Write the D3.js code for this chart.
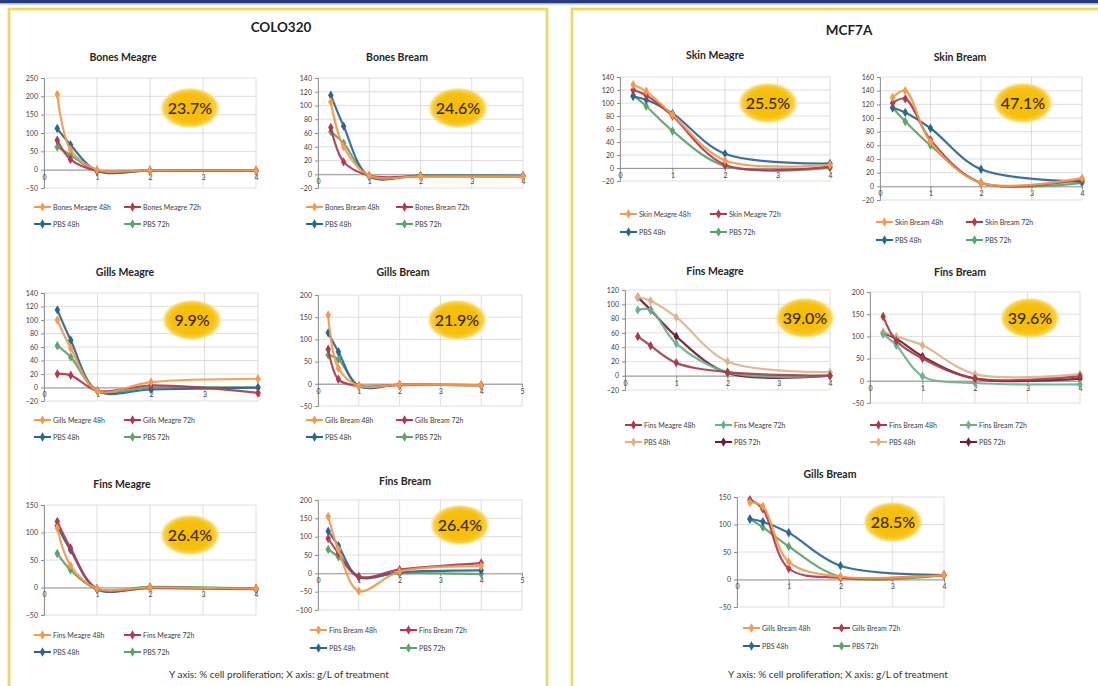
<!DOCTYPE html>
<html>
<head>
<meta charset="utf-8">
<script src="https://cdn.jsdelivr.net/npm/d3@7"></script>
<style>
  body { margin: 0; background: #fff; }
  svg { display: block; }
  text { font-family: Lato, "Open Sans", "Liberation Sans", sans-serif; }
</style>
</head>
<body>
<svg id="fig" width="1098" height="686"></svg>
<script>
// ---------- data ----------
// treatment concentrations (g/L) shared by every curve
const doses = [0.25, 0.5, 1, 2, 4];

// COLO320 panel
const coloTitles = ["Bones Meagre", "Bones Bream", "Gills Meagre", "Gills Bream", "Fins Meagre", "Fins Bream"];
const coloInhibition = ["23.7%", "24.6%", "9.9%", "21.9%", "26.4%", "26.4%"];
const coloYDomains = [[-50, 250], [-20, 140], [-20, 140], [-50, 200], [-50, 150], [-100, 200]];
const coloYSteps = [50, 20, 20, 50, 50, 50];
const coloXMax = [4, 4, 4, 5, 4, 5];

// rows: extract 48h, extract 72h, PBS 48h, PBS 72h (% cell proliferation)
const coloBonesMeagre = [[205, 55, 0, -2, -2], [80, 28, -3, -2, -2], [112, 68, -3, -3, -3], [62, 40, -3, -3, -3]];
const coloBonesBream  = [[105, 40, -2, -3, -3], [68, 18, -2, -3, -3], [115, 70, -3, -2, -2], [62, 45, -3, -2, -3]];
const coloGillsMeagre = [[100, 58, -5, 8, 13], [20, 18, -5, 3, -8], [115, 70, -5, -3, 0], [62, 45, -5, 0, 0]];
const coloGillsBream  = [[155, 35, -5, -2, -3], [78, 10, -5, -3, -3], [115, 72, -5, -2, -3], [65, 55, -5, -2, -3]];
const coloFinsMeagre  = [[108, 40, -2, 0, -2], [120, 72, -2, 0, -2], [112, 68, -3, -1, -3], [62, 32, -3, 1, -2]];
const coloFinsBream   = [[155, 65, -48, 5, 20], [95, 55, -10, 10, 28], [115, 75, -10, 3, 8], [65, 45, -8, 0, -2]];

// MCF7A panel
const mcfTitles = ["Skin Meagre", "Skin Bream", "Fins Meagre", "Fins Bream", "Gills Bream"];
const mcfInhibition = ["25.5%", "47.1%", "39.0%", "39.6%", "28.5%"];
const mcfYDomains = [[-20, 140], [-20, 160], [-20, 120], [-50, 200], [-50, 150]];
const mcfYSteps = [20, 20, 20, 50, 50];
const mcfXMax = [4, 4, 4, 4, 4];

const mcfSkinMeagre  = [[128, 118, 82, 12, 5], [120, 112, 80, 5, 2], [110, 105, 84, 22, 7], [112, 95, 57, 3, 0]];
const mcfSkinBream   = [[130, 140, 65, 5, 12], [122, 128, 68, 5, 10], [115, 108, 85, 25, 7], [115, 95, 60, 5, 5]];
const mcfFinsMeagre  = [[55, 42, 18, 5, 0], [92, 92, 45, 5, 0], [110, 105, 82, 20, 5], [110, 92, 55, 4, 0]];
const mcfFinsBream   = [[145, 90, 50, 5, 10], [105, 80, 10, -5, -8], [110, 100, 80, 15, 15], [108, 95, 55, 5, 5]];
const mcfGillsBream  = [[140, 133, 32, 5, 8], [145, 128, 20, 3, 8], [110, 105, 85, 25, 8], [110, 95, 60, 5, 8]];

const legendSuffixes = ["48h", "72h"];
const controlNames = ["PBS 48h", "PBS 72h"];
const footNote = "Y axis: % cell proliferation; X axis: g/L of treatment";

// ---------- styling / placement ----------
const paletteStd = ["#F29A4E", "#B23A4E", "#2B6592", "#5EA36A"];
const paletteFins = ["#A63D4D", "#6FB08C", "#DDB48A", "#6A2033"];

const frames = [
  { box: [44, 78, 256, 188],   title: [123, 57],  oval: [190, 108],  legY: [207, 224], legX: -10 },
  { box: [318, 78, 523, 188],  title: [397, 57],  oval: [458, 108],  legY: [207, 224], legX: -12 },
  { box: [44, 293, 258, 401],  title: [125, 272], oval: [192, 320],  legY: [420, 437], legX: -10 },
  { box: [318, 295, 522, 406], title: [403, 272], oval: [457, 320],  legY: [420, 437], legX: -12 },
  { box: [44, 505, 256, 615],  title: [122, 484], oval: [190, 535],  legY: [635, 652], legX: -10 },
  { box: [318, 500, 522, 610], title: [405, 481], oval: [460, 525],  legY: [630, 648], legX: -8 },
  { box: [620, 77, 830, 181],  title: [715, 55],  oval: [768, 103],  legY: [214, 232], legX: 0 },
  { box: [880, 77, 1082, 200], title: [960, 57],  oval: [1023, 103], legY: [222, 240], legX: -4 },
  { box: [625, 290, 830, 390], title: [715, 271], oval: [805, 318],  legY: [425, 442], legX: 0 },
  { box: [870, 292, 1080, 403],title: [960, 272], oval: [1030, 318], legY: [425, 442], legX: 0 },
  { box: [737, 497, 944, 607], title: [830, 474], oval: [893, 522],  legY: [628, 646], legX: 6 }
];

const coloSeries = [coloBonesMeagre, coloBonesBream, coloGillsMeagre, coloGillsBream, coloFinsMeagre, coloFinsBream];
const mcfSeries = [mcfSkinMeagre, mcfSkinBream, mcfFinsMeagre, mcfFinsBream, mcfGillsBream];

const charts = [];
coloTitles.forEach((t, i) => charts.push({
  title: t, label: coloInhibition[i], yDomain: coloYDomains[i], yStep: coloYSteps[i],
  xMax: coloXMax[i], rows: coloSeries[i], colors: paletteStd
}));
mcfTitles.forEach((t, i) => charts.push({
  title: t, label: mcfInhibition[i], yDomain: mcfYDomains[i], yStep: mcfYSteps[i],
  xMax: mcfXMax[i], rows: mcfSeries[i], colors: (t.startsWith("Fins") ? paletteFins : paletteStd)
}));

// ---------- drawing ----------
const svg = d3.select("#fig");
const defs = svg.append("defs");

const grad = defs.append("radialGradient").attr("id", "ovalFill");
grad.append("stop").attr("offset", "0%").attr("stop-color", "#F5BC00");
grad.append("stop").attr("offset", "70%").attr("stop-color", "#F6C010");
grad.append("stop").attr("offset", "88%").attr("stop-color", "#F8D350");
grad.append("stop").attr("offset", "100%").attr("stop-color", "#FCEBA8").attr("stop-opacity", 0.25);

// header strip
svg.append("rect").attr("x", 0).attr("y", 0).attr("width", 1098).attr("height", 3).attr("fill", "#2B3A7C");
svg.append("rect").attr("x", 0).attr("y", 3).attr("width", 1098).attr("height", 1.5).attr("fill", "#A9B3D8");

// yellow panel frames
[[9, 9, 538, 690], [572, 9, 540, 690]].forEach(([x, y, w, h]) => {
  svg.append("rect").attr("x", x).attr("y", y).attr("width", w).attr("height", h)
    .attr("fill", "none").attr("stroke", "#FAF0B8").attr("stroke-width", 4);
  svg.append("rect").attr("x", x).attr("y", y).attr("width", w).attr("height", h)
    .attr("fill", "none").attr("stroke", "#E6C955").attr("stroke-width", 1.4);
});

svg.append("text").attr("x", 281).attr("y", 32).attr("text-anchor", "middle")
  .attr("font-size", 13.5).attr("font-weight", 700).attr("fill", "#1f1f1f").text("COLO320");
svg.append("text").attr("x", 849).attr("y", 35).attr("text-anchor", "middle")
  .attr("font-size", 13.5).attr("font-weight", 700).attr("fill", "#1f1f1f").text("MCF7A");

[279, 838].forEach(cx => svg.append("text").attr("x", cx).attr("y", 678).attr("text-anchor", "middle")
  .attr("font-size", 10).attr("fill", "#333").text(footNote));

const diamond = d3.symbol().type(d3.symbolDiamond).size(26);

charts.forEach((c, idx) => {
  const f = frames[idx];
  const [x0, y0, x1, y1] = f.box;
  const g = svg.append("g");
  const x = d3.scaleLinear().domain([0, c.xMax]).range([x0, x1]);
  const y = d3.scaleLinear().domain(c.yDomain).range([y1, y0]);
  const yTicks = d3.range(c.yDomain[0], c.yDomain[1] + c.yStep / 2, c.yStep);
  const xTicks = d3.range(0, c.xMax + 1);

  // gridlines
  g.selectAll(".hg").data(yTicks).join("line")
    .attr("x1", x0).attr("x2", x1).attr("y1", d => y(d)).attr("y2", d => y(d))
    .attr("stroke", "#D6D6D6").attr("stroke-width", 0.8);
  g.selectAll(".vg").data(xTicks).join("line")
    .attr("x1", d => x(d)).attr("x2", d => x(d)).attr("y1", y0).attr("y2", y1)
    .attr("stroke", "#D6D6D6").attr("stroke-width", 0.8);

  // axes
  const ya = g.append("g").attr("transform", `translate(${x0},0)`)
    .call(d3.axisLeft(y).tickValues(yTicks).tickSize(3).tickPadding(3).tickFormat(d3.format("d")));
  const xa = g.append("g").attr("transform", `translate(0,${y(0)})`)
    .call(d3.axisBottom(x).tickValues(xTicks).tickSize(3).tickPadding(2).tickFormat(d3.format("d")));
  [ya, xa].forEach(a => {
    a.select(".domain").attr("stroke", "#8C8C8C").attr("stroke-width", 0.9);
    a.selectAll(".tick line").attr("stroke", "#8C8C8C");
    a.selectAll(".tick text").attr("font-size", 7).attr("fill", "#404040")
      .attr("font-family", "Lato, 'Open Sans', sans-serif");
  });

  // inhibition badge
  g.append("ellipse").attr("cx", f.oval[0]).attr("cy", f.oval[1]).attr("rx", 30).attr("ry", 20.5)
    .attr("fill", "url(#ovalFill)");
  g.append("text").attr("x", f.oval[0]).attr("y", f.oval[1] + 5.5).attr("text-anchor", "middle")
    .attr("font-size", 16).attr("font-weight", 500).attr("fill", "#3A2A12").text(c.label);

  // curves
  const line = d3.line().x((d, i) => x(doses[i])).y(d => y(d)).curve(d3.curveCatmullRom.alpha(0.5));
  const order = [3, 2, 1, 0];
  order.forEach(si => {
    const vals = c.rows[si];
    g.append("path").attr("d", line(vals)).attr("fill", "none")
      .attr("stroke", c.colors[si]).attr("stroke-width", 2.2).attr("opacity", 0.92)
      .attr("stroke-linejoin", "round");
    g.selectAll(null).data(vals).join("path")
      .attr("transform", (d, i) => `translate(${x(doses[i])},${y(d)})`)
      .attr("d", diamond).attr("fill", c.colors[si]);
  });

  // chart title
  g.append("text").attr("x", f.title[0]).attr("y", f.title[1] + 4).attr("text-anchor", "middle")
    .attr("font-size", 10.5).attr("font-weight", 700).attr("fill", "#262626").text(c.title);

  // legend
  const names = [c.title + " " + legendSuffixes[0], c.title + " " + legendSuffixes[1], controlNames[0], controlNames[1]];
  names.forEach((n, i) => {
    const lx = x0 + f.legX + (i % 2) * 90;
    const ly = f.legY[Math.floor(i / 2)];
    g.append("line").attr("x1", lx).attr("x2", lx + 17).attr("y1", ly).attr("y2", ly)
      .attr("stroke", c.colors[i]).attr("stroke-width", 2);
    g.append("path").attr("transform", `translate(${lx + 8.5},${ly})`).attr("d", diamond).attr("fill", c.colors[i]);
    g.append("text").attr("x", lx + 19).attr("y", ly + 2.5).attr("font-size", 7).attr("fill", "#404040").text(n);
  });
});
</script>
</body>
</html>
